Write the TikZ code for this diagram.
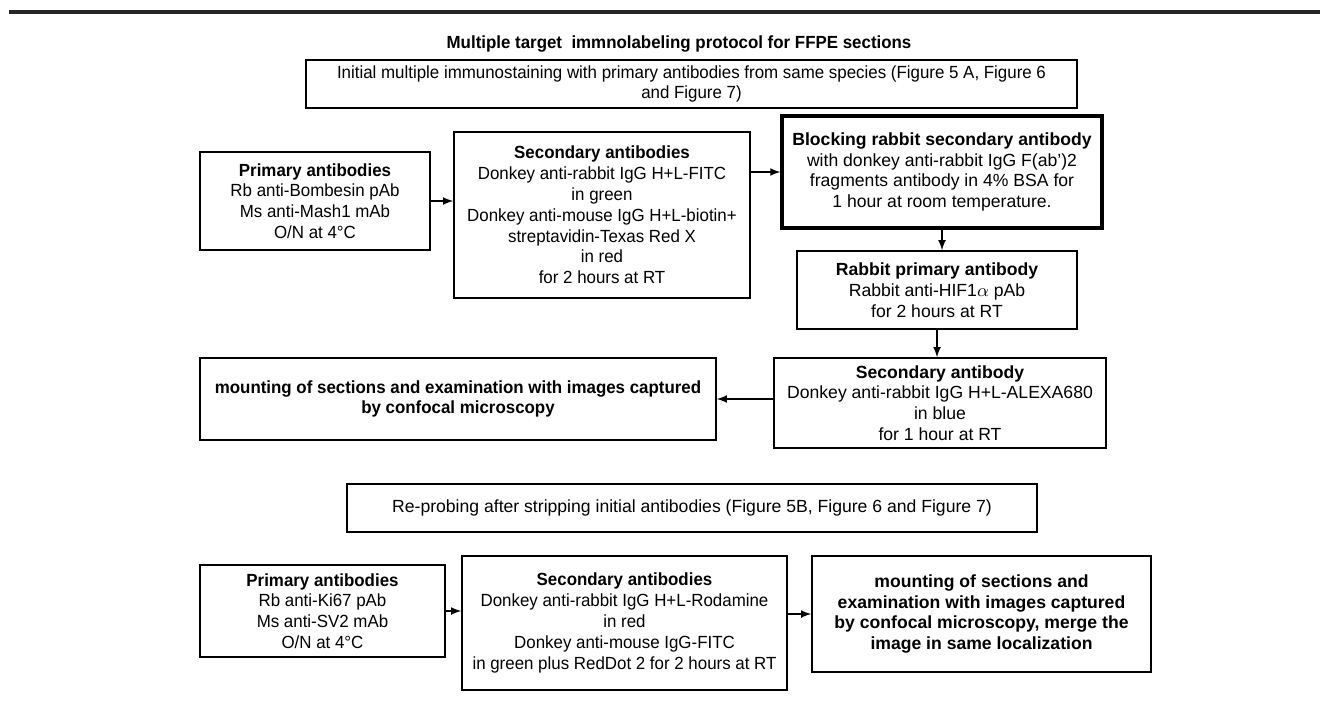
\documentclass[tikz,border=0pt]{standalone}
\usepackage{fontspec}
\setmainfont{Liberation Sans}
\newfontfamily\narrowsf[FakeStretch=0.96]{Liberation Sans}
\usetikzlibrary{positioning}

\begin{document}
\begin{tikzpicture}[x=0.5pt,y=-0.5pt,
  box/.style={draw,line width=0.75pt,align=center,inner sep=0pt,font=\narrowsf\fontsize{8.8}{10.4}\selectfont},
  wbox/.style={box,font=\fontsize{8.8}{10.4}\selectfont},
  sz/.style 2 args={minimum width=#1*0.5pt,minimum height=#2*0.5pt},
  arr/.style={-latex,line width=0.75pt}]
\useasboundingbox (0,0) rectangle (1320,714);
\draw[line width=1.6pt,black!85] (9,12) -- (1320,12);

\node[font=\narrowsf\bfseries\fontsize{8.8}{10.4}\selectfont] (title) at (679,44) {Multiple target~ immnolabeling protocol for FFPE sections};
\node[box,sz={771}{48}] (init) at (691.5,84) {Initial multiple immunostaining with primary antibodies from same species (Figure 5 A, Figure 6\\and Figure 7)};

\node[box,sz={230}{98}] (prim1) at (315,201) {\textbf{Primary antibodies}\\Rb anti-Bombesin pAb\\Ms anti-Mash1 mAb\\O/N at 4°C};
\node[box,sz={296}{166}] (sec1) at (602,215) {\textbf{Secondary antibodies}\\Donkey anti-rabbit IgG H+L-FITC\\in green\\Donkey anti-mouse IgG H+L-biotin+\\streptavidin-Texas Red X\\in red\\for 2 hours at RT};
\node[wbox,sz={320}{112},line width=1.6pt] (block) at (942,172) {\textbf{Blocking rabbit secondary antibody}\\with donkey anti-rabbit IgG F(ab’)2\\fragments antibody in 4\% BSA for\\1 hour at room temperature.};
\node[wbox,sz={280}{78}] (rab) at (937,290) {\textbf{Rabbit primary antibody}\\Rabbit anti-HIF1$\alpha$ pAb\\for 2 hours at RT};
\node[wbox,sz={332}{90}] (alexa) at (940,403) {\textbf{Secondary antibody}\\Donkey anti-rabbit IgG H+L-ALEXA680\\in blue\\for 1 hour at RT};
\node[box,sz={516}{82},font=\narrowsf\bfseries\fontsize{8.8}{10.4}\selectfont] (mount1) at (458,399) {mounting of sections and examination with images captured\\by confocal microscopy};

\node[wbox,sz={690}{48}] (reprobe) at (692,508) {Re-probing after stripping initial antibodies (Figure 5B, Figure 6 and Figure 7)};
\node[box,sz={245}{92}] (prim2) at (322.5,611) {\textbf{Primary antibodies}\\Rb anti-Ki67 pAb\\Ms anti-SV2 mAb\\O/N at 4°C};
\node[box,sz={325}{134}] (sec2) at (624.5,623) {\textbf{Secondary antibodies}\\Donkey anti-rabbit IgG H+L-Rodamine\\in red\\Donkey anti-mouse IgG-FITC\\in green plus RedDot 2 for 2 hours at RT};
\node[wbox,sz={339}{116},font=\bfseries\fontsize{8.8}{10.4}\selectfont] (mount2) at (981.5,614) {mounting of sections and\\examination with images captured\\by confocal microscopy, merge the\\image in same localization};

\draw[arr] (prim1.east) -- (prim1.east -| sec1.west);
\draw[arr] (block.west -| sec1.east) -- (block.west);
\draw[arr] (block.south) -- (block.south |- rab.north);
\draw[arr] (rab.south) -- (rab.south |- alexa.north);
\draw[arr] (mount1.east -| alexa.west) -- (mount1.east);
\draw[arr] (prim2.east) -- (prim2.east -| sec2.west);
\draw[arr] (mount2.west -| sec2.east) -- (mount2.west);
\end{tikzpicture}
\end{document}
